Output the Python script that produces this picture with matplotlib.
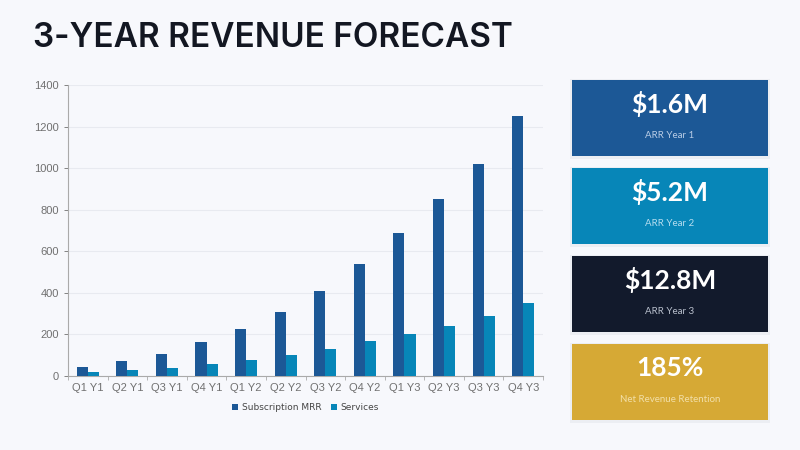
import numpy as np
import matplotlib.pyplot as plt
from matplotlib.patches import Rectangle

# Data
quarters = ['Q1 Y1', 'Q2 Y1', 'Q3 Y1', 'Q4 Y1', 'Q1 Y2', 'Q2 Y2',
            'Q3 Y2', 'Q4 Y2', 'Q1 Y3', 'Q2 Y3', 'Q3 Y3', 'Q4 Y3']
subscription_mrr = [45, 72, 108, 165, 228, 310, 410, 540, 690, 850, 1020, 1250]
services = [20, 30, 40, 60, 78, 100, 130, 168, 200, 240, 290, 350]

kpi_values = ['$1.6M', '$5.2M', '$12.8M', '185%']
kpi_labels = ['ARR Year 1', 'ARR Year 2', 'ARR Year 3', 'Net Revenue Retention']
kpi_colors = ['#1c5896', '#0786b8', '#121a2c', '#d6a935']
kpi_label_colors = ['#b9cde6', '#b5ddef', '#b8bfcc', '#f2dfa8']

bg = '#f7f8fc'
sub_color = '#1c5896'
svc_color = '#0786b8'

fig = plt.figure(figsize=(8, 4.5), dpi=100, facecolor=bg)

# Title
fig.text(33 / 800, 1 - 38 / 450, '3-YEAR REVENUE FORECAST', fontsize=24,
         fontweight='semibold', family='Inter', color='#131722', va='center', ha='left')

# Bar chart
ax = fig.add_axes([68 / 800, 1 - 376 / 450, (543 - 68) / 800, (376 - 85) / 450])
ax.set_facecolor(bg)
x = np.arange(len(quarters))
w = 0.28
ax.bar(x - w / 2, subscription_mrr, w, color=sub_color, label='Subscription MRR', zorder=3)
ax.bar(x + w / 2, services, w, color=svc_color, label='Services', zorder=3)

ax.set_ylim(0, 1400)
ax.set_yticks(range(0, 1401, 200))
ax.set_xlim(-0.5, len(quarters) - 0.5)
ax.set_xticks(x)
ax.set_xticklabels(quarters)
for lbl in ax.get_xticklabels() + ax.get_yticklabels():
    lbl.set_family('Liberation Sans')
ax.tick_params(axis='both', labelsize=8, colors='#707070', length=3, width=0.6)
ax.set_xticks(np.arange(-0.5, len(quarters), 1), minor=True)
ax.tick_params(axis='x', which='major', length=0, pad=5)
ax.tick_params(axis='x', which='minor', length=3, color='#aaaaaa')
ax.grid(axis='y', color='#e8eaf0', linewidth=0.8, zorder=0)
for side in ['top', 'right']:
    ax.spines[side].set_visible(False)
ax.spines['left'].set_color('#aaaaaa')
ax.spines['bottom'].set_color('#aaaaaa')
ax.spines['left'].set_linewidth(0.8)
ax.spines['bottom'].set_linewidth(0.8)

ax.legend(loc='upper center', bbox_to_anchor=(0.5, -0.065), ncol=2, frameon=False,
          fontsize=6.5, handlelength=0.7, handleheight=0.7, handletextpad=0.4,
          columnspacing=1.0, labelcolor='#444444')

# KPI cards
card_tops = [80, 168, 256, 344]
card_h = 76
cx0, cx1 = 572, 768
for top, val, lab, col, lcol in zip(card_tops, kpi_values, kpi_labels, kpi_colors, kpi_label_colors):
    # shadow
    fig.patches.append(Rectangle(((cx0 - 2) / 800, 1 - (top + card_h + 3) / 450),
                                 (cx1 - cx0 + 4) / 800, (card_h + 4) / 450,
                                 transform=fig.transFigure, facecolor='#eceef3',
                                 edgecolor='none', zorder=0))
    fig.patches.append(Rectangle((cx0 / 800, 1 - (top + card_h) / 450),
                                 (cx1 - cx0) / 800, card_h / 450,
                                 transform=fig.transFigure, facecolor=col,
                                 edgecolor='none', zorder=1))
    xc = (cx0 + cx1) / 2 / 800
    fig.text(xc, 1 - (top + 24) / 450, val, fontsize=19, fontweight='bold',
             family='Lato', color='white', ha='center', va='center', zorder=2)
    fig.text(xc, 1 - (top + 55) / 450, lab, fontsize=7, family='Lato',
             color=lcol, ha='center', va='center', zorder=2)

fig.savefig('out.png', dpi=100, facecolor=bg)
